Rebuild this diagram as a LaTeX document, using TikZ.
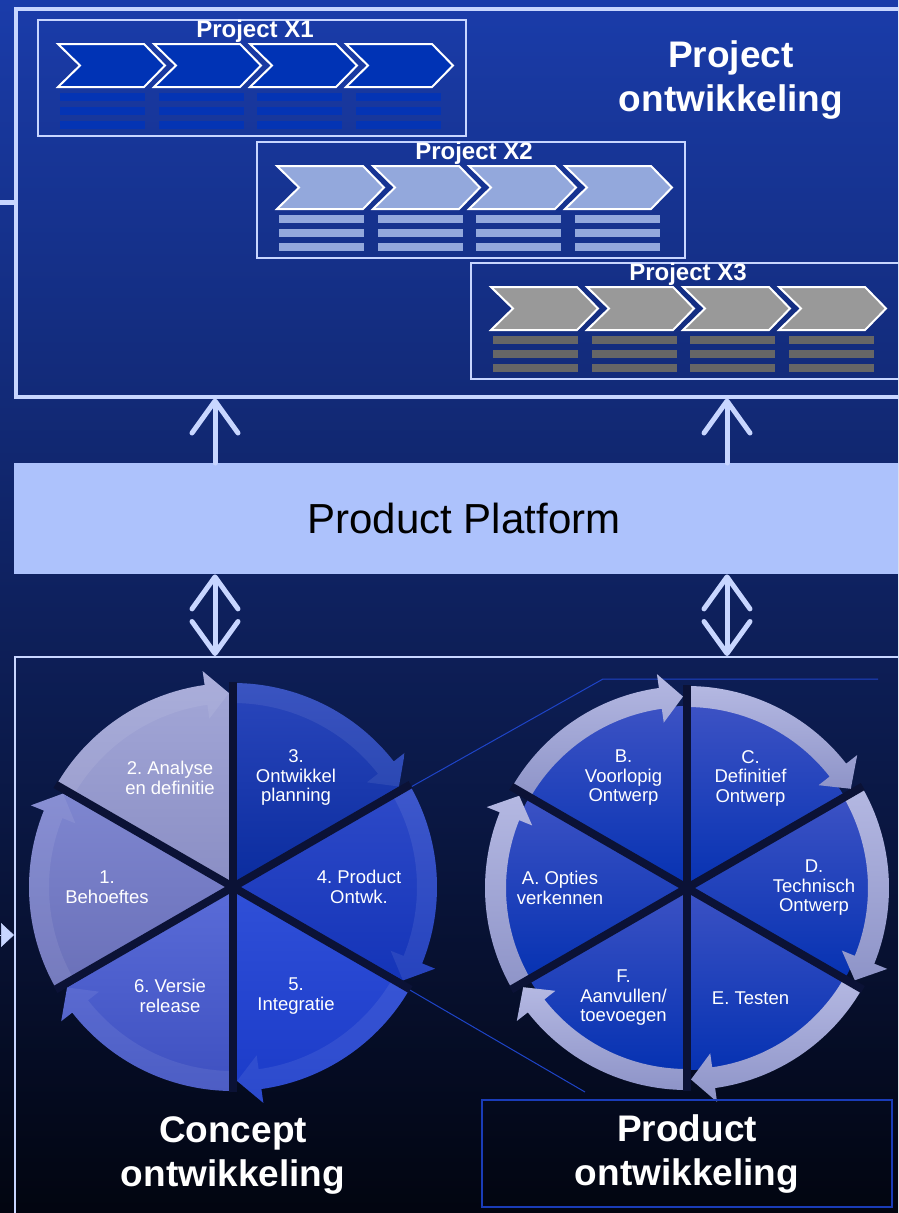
\documentclass[tikz,border=0pt]{standalone}
\usepackage{fontspec}
\setmainfont{Liberation Sans}
\usetikzlibrary{positioning, arrows.meta}
\frenchspacing

\definecolor{bgtop}{HTML}{1A3CAA}
\definecolor{bgmid}{HTML}{0E2A80}
\definecolor{bgbot}{HTML}{020510}
\definecolor{lightline}{HTML}{C8D6FF}
\definecolor{platformfill}{HTML}{ADC2FC}
\definecolor{zoomblue}{HTML}{1E44C8}
\definecolor{gapcol}{HTML}{0B1236}
\definecolor{boxblue}{HTML}{1A3CB8}
\definecolor{chevone}{HTML}{0033B5}
\definecolor{barone}{HTML}{0434B4}
\definecolor{chevtwo}{HTML}{93A8DC}
\definecolor{bartwo}{HTML}{93A8DC}
\definecolor{chevthree}{HTML}{999999}
\definecolor{barthree}{HTML}{666666}
\definecolor{sonet}{HTML}{7E86D0}
\definecolor{soneb}{HTML}{6A70B8}
\definecolor{stwot}{HTML}{A4A8D8}
\definecolor{stwob}{HTML}{8A8EC4}
\definecolor{sthreet}{HTML}{2A46BC}
\definecolor{sthreeb}{HTML}{0A2C9E}
\definecolor{sfourt}{HTML}{2E4AC8}
\definecolor{sfourb}{HTML}{1434B8}
\definecolor{sfivet}{HTML}{3050D8}
\definecolor{sfiveb}{HTML}{1A3AC8}
\definecolor{ssixt}{HTML}{5A6CD8}
\definecolor{ssixb}{HTML}{3E50C0}
\definecolor{innert}{HTML}{3C52C4}
\definecolor{innerb}{HTML}{0632B2}
\definecolor{ringt}{HTML}{B4B8E2}
\definecolor{ringb}{HTML}{8E94C8}

\begin{document}
\begin{tikzpicture}[x=1pt, y=1pt,
    projbox/.style={draw=lightline, rectangle, inner sep=0pt, anchor=north west},
    projlabel/.style={text=white, font=\fontsize{24}{26}\selectfont\bfseries},
    bigtitle/.style={text=white, align=center, font=\fontsize{37}{44}\selectfont\bfseries},
    seclabel/.style={text=white, align=center, font=\fontsize{18.5}{19.5}\selectfont},
    chevron/.style={draw=white, line width=2pt, line join=miter},
    link/.style={draw=lightline, line width=5pt, line cap=round},
    barb/.style={-{Straight Barb[length=32pt, width=46pt, round]}},
    dbarb/.style={{Straight Barb[length=32pt, width=46pt, round]}-{Straight Barb[length=32pt, width=46pt, round]}},
    zoomline/.style={draw=zoomblue, line width=1pt},
    divider/.style={draw=gapcol, line width=8pt},
    wedge/.style={insert path={(0,0) -- (#1+60:\Ro) arc[start angle=#1+60, end angle=#1+8, radius=\Ro] -- (#1+8:\Ro+14) -- (#1+1.2:\Rm) -- cycle}},
    ring arrow/.style={insert path={(#1+60:\Ro) arc[start angle=#1+60, end angle=#1+8, radius=\Ro] -- (#1+8:\Ro+14) -- (#1+1.2:\Rm) -- (#1+8:\Ri-14) -- (#1+8:\Ri) arc[start angle=#1+8, end angle=#1+60, radius=\Ri] -- cycle}},
  ]
  \useasboundingbox (0,0) rectangle (898,-1213);
  \clip (0,0) rectangle (898,-1213);
  \shade[top color=bgtop, middle color=bgmid, bottom color=bgbot] (0,0) rectangle (898,-1213);

  % project development frame
  \node[projbox, line width=4pt, minimum width=900pt, minimum height=388pt] (projdev) at (14,-6.5) {};
  \coordinate (stubend) at (projdev.west -| 0,0);
  \draw[link] (stubend) -- (projdev.west);
  \node[bigtitle] (projtitle) at (731,-80) {Project\\ontwikkeling};

  % the three projects
  \foreach \px/\py/\pname/\chev/\barc in {58/44/X1/chevone/barone, 277/166/X2/chevtwo/bartwo, 491/287/X3/chevthree/barthree}{
    \node[projbox, line width=2pt, minimum width=428pt, minimum height=116pt] (box\pname) at (\px-21,-\py+25) {};
    \node[projlabel] (title\pname) at (\px+197,-\py+13) {Project \pname};
    \foreach \i in {0,...,3}{
      \filldraw[chevron, fill=\chev] (\px+96*\i,-\py) -- ++(86,0) -- ++(21,-21.5) -- ++(-21,-21.5) -- ++(-86,0) -- ++(22,21.5) -- cycle;
      \foreach \j in {0,1,2}
        \fill[\barc] (\px+2+98.5*\i,-\py-49-14*\j) rectangle ++(85,-8);
    }
  }

  % platform
  \node[rectangle, fill=platformfill, anchor=north west, inner sep=0pt, minimum width=900pt, minimum height=111pt] (platform) at (14,-463) {};
  \node[font=\fontsize{42}{48}\selectfont] (platformtext) at (464,-518.5) {Product Platform};

  % lower frame
  \node[projbox, line width=2pt, minimum width=900pt, minimum height=600pt] (ontw) at (14,-656) {};

  % arrows
  \coordinate (lx) at (215,0);
  \coordinate (rx) at (727,0);
  \draw[link, barb] (platform.north -| lx) -- (projdev.south -| lx);
  \draw[link, barb] (platform.north -| rx) -- (projdev.south -| rx);
  \draw[link, dbarb] (platform.south -| lx) -- (ontw.north -| lx);
  \draw[link, dbarb] (platform.south -| rx) -- (ontw.north -| rx);
  \coordinate (inleft) at (-4,-935);
  \draw[lightline, line width=0.5pt, -{Triangle[length=13pt, width=24pt]}] (inleft) -- (ontw.west |- inleft);

  % zoom lines
  \coordinate (cl) at (233,-887);
  \coordinate (cr) at (687,-888);
  \coordinate (zup) at (603,-679);
  \coordinate (zend) at (878,-679);
  \coordinate (zlow) at (585,-1092);
  \draw[zoomline] (cl) -- (zup) -- (zend);
  \draw[zoomline] (cl) -- (zlow);

  % concept cycle
  \begin{scope}[shift={(cl)}]
    \def\Ro{204} \def\Ri{184} \def\Rm{194}
    \foreach \a/\ct/\cb in {150/sonet/soneb, 90/stwot/stwob, 30/sthreet/sthreeb, -30/sfourt/sfourb, -90/sfivet/sfiveb, -150/ssixt/ssixb}
      \shade[top color=\ct, bottom color=\cb] [wedge=\a];
    \foreach \a in {150,90,30,-30,-90,-150}
      \fill[white, fill opacity=0.08] [ring arrow=\a];
    \foreach \a in {90,30,-30}
      \draw[divider] (\a:\Ro+1) -- (\a+180:\Ro+1);
    \node[seclabel] (c1) at (180:126) {1.\\Behoeftes};
    \node[seclabel] (c2) at (120:126) {2. Analyse\\en definitie};
    \node[seclabel] (c3) at (60:126) {3.\\Ontwikkel\\planning};
    \node[seclabel] (c4) at (0:126) {4. Product\\Ontwk.};
    \node[seclabel] (c5) at (-60:126) {5.\\Integratie};
    \node[seclabel] (c6) at (-120:126) {6. Versie\\release};
  \end{scope}

  % product cycle
  \begin{scope}[shift={(cr)}]
    \def\Ro{202} \def\Ri{181} \def\Rm{191.5}
    \foreach \a in {150,90,30,-30,-90,-150}
      \shade[top color=innert, bottom color=innerb] (0,0) -- (\a+60:\Ri+1) arc[start angle=\a+60, end angle=\a, radius=\Ri+1] -- cycle;
    \foreach \a in {150,90,30,-30,-90,-150}
      \shade[top color=ringt, bottom color=ringb] [ring arrow=\a];
    \foreach \a in {90,30,-30}
      \draw[divider] (\a:\Ro+1) -- (\a+180:\Ro+1);
    \node[seclabel] (pa) at (180:127) {A. Opties\\verkennen};
    \node[seclabel] (pb) at (120:127) {B.\\Voorlopig\\Ontwerp};
    \node[seclabel] (pc) at (60:127) {C.\\Definitief\\Ontwerp};
    \node[seclabel] (pd) at (0:127) {D.\\Technisch\\Ontwerp};
    \node[seclabel] (pe) at (-60:127) {E. Testen};
    \node[seclabel] (pf) at (-120:127) {F.\\Aanvullen/\\toevoegen};
  \end{scope}

  % bottom titles
  \node[bigtitle] (concept) at (233,-1155) {Concept\\ontwikkeling};
  \node[bigtitle, draw=boxblue, line width=1.2pt, minimum width=410pt, minimum height=107pt] (product) at (687,-1153.5) {Product\\ontwikkeling};
\end{tikzpicture}
\end{document}
